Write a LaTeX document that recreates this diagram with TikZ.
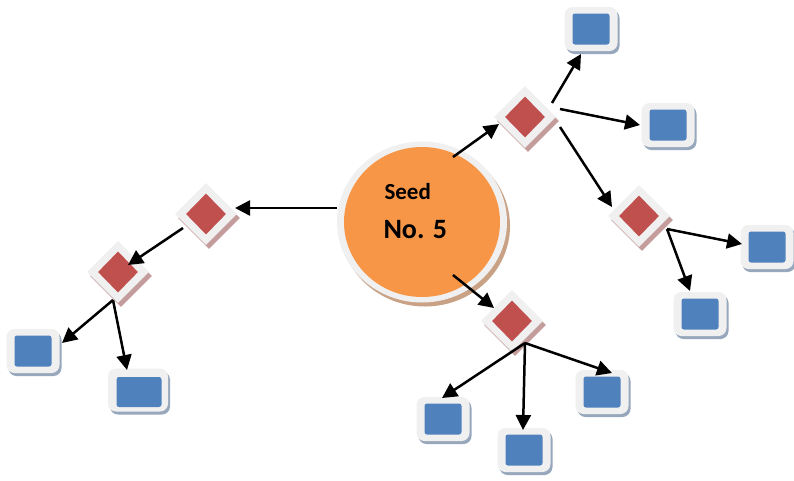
\documentclass[tikz,border=0pt]{standalone}
\usepackage{fontspec}
\setmainfont{Carlito}
\usetikzlibrary{shapes.geometric,arrows.meta,shadows,calc}
\definecolor{seedorange}{HTML}{F79646}
\definecolor{seedring}{HTML}{F0F0F0}
\definecolor{seedshade}{HTML}{C9A286}
\definecolor{tilered}{HTML}{C0504D}
\definecolor{tileshade}{HTML}{C49C9C}
\definecolor{leafblue}{HTML}{4F81BD}
\definecolor{leafshade}{HTML}{97A7BC}
\begin{document}
\begin{tikzpicture}[x=1pt,y=-1pt,
  seedring/.style={ellipse, inner sep=0pt, fill=seedring,
    minimum width=170pt, minimum height=161pt,
    general shadow={fill=seedshade, shadow xshift=3pt, shadow yshift=-4pt}},
  seedcore/.style={ellipse, inner sep=0pt, fill=seedorange,
    minimum width=156pt, minimum height=150pt},
  tileframe/.style={diamond, aspect=1, inner sep=0pt, fill=seedring,
    minimum width=62pt, minimum height=62pt,
    general shadow={fill=tileshade, shadow xshift=3pt, shadow yshift=-4pt}},
  tilecore/.style={diamond, aspect=1, inner sep=0pt, fill=tilered,
    minimum width=40pt, minimum height=41pt},
  leafframe/.style={rectangle, rounded corners=8pt, inner sep=0pt, fill=seedring,
    minimum width=53pt, minimum height=44pt,
    general shadow={fill=leafshade, shadow xshift=2pt, shadow yshift=-3pt}},
  leafcore/.style={rectangle, rounded corners=2.5pt, inner sep=0pt, fill=leafblue,
    minimum width=37pt, minimum height=31pt},
  arr/.style={line width=2.5pt, draw=black,
    -{Triangle[length=15pt,width=15pt]}}
]
\useasboundingbox[fill=white] (0,0) rectangle (794,480);

% central seed
\node[seedring] (seed) at (422,222) {};
\node[seedcore] (seedin) at (422,222) {};
\node[anchor=base west, font=\bfseries\fontsize{23}{27}\selectfont] (seedlbl) at (381,199) {Seed};
\node[anchor=base west, font=\bfseries\fontsize{28}{32}\selectfont] (seednum) at (380,238) {No. 5};

% branching tiles
\foreach \n/\x/\y in {d1/525/117, d2/639/216, d3/512/321, d4/206/214, d5/118/272}{
  \node[tileframe] (\n) at (\x,\y) {};
  \node[tilecore] (\n in) at (\x,\y) {};
}

% leaves
\foreach \n/\x/\y in {b1/591/29, b2/668/125, b3/767/247, b4/700/314,
                      b5/602/392, b6/443/419, b7/524/450, b8/33/351}{
  \node[leafframe] (\n) at (\x,\y) {};
  \node[leafcore] (\n in) at (\x,\y) {};
}
\node[leafframe, minimum width=60pt, minimum height=43pt] (b9) at (138,390) {};
\node[leafcore, minimum width=45pt, minimum height=30pt] (b9in) at (139,392) {};

% connectors
\draw[arr] ($(seed)+(-85,-14)$) -- ($(d4)+(29,-6)$);
\draw[arr] ($(seed)+(31,-65)$) -- ($(d1)+(-26,7)$);
\draw[arr] ($(seed)+(31,53)$) -- ($(d3)+(-18,-13)$);

\draw[arr] ($(d4)+(-23,14)$) -- ($(d5)+(10,-7)$);
\draw[arr] ($(d5)+(-5,28)$) -- ($(b8)+(29,-8)$);
\draw[arr] ($(d5)+(-5,28)$) -- ($(b9)+(-11,-20)$);

\draw[arr] ($(d1)+(27,-14)$) -- ($(b1)+(-10,25)$);
\draw[arr] ($(d1)+(35,-8)$) -- ($(b2)+(-28,0)$);
\draw[arr] ($(d1)+(35,10)$) -- ($(d2)+(-27,-9)$);

\draw[arr] ($(d2)+(28,13)$) -- ($(b3)+(-25,-3)$);
\draw[arr] ($(d2)+(28,13)$) -- ($(b4)+(-10,-23)$);

\draw[arr] ($(d3)+(13,22)$) -- ($(b6)+(-1,-21)$);
\draw[arr] ($(d3)+(13,22)$) -- ($(b7)+(-1,-20)$);
\draw[arr] ($(d3)+(13,22)$) -- ($(b5)+(10,-19)$);
\end{tikzpicture}
\end{document}
